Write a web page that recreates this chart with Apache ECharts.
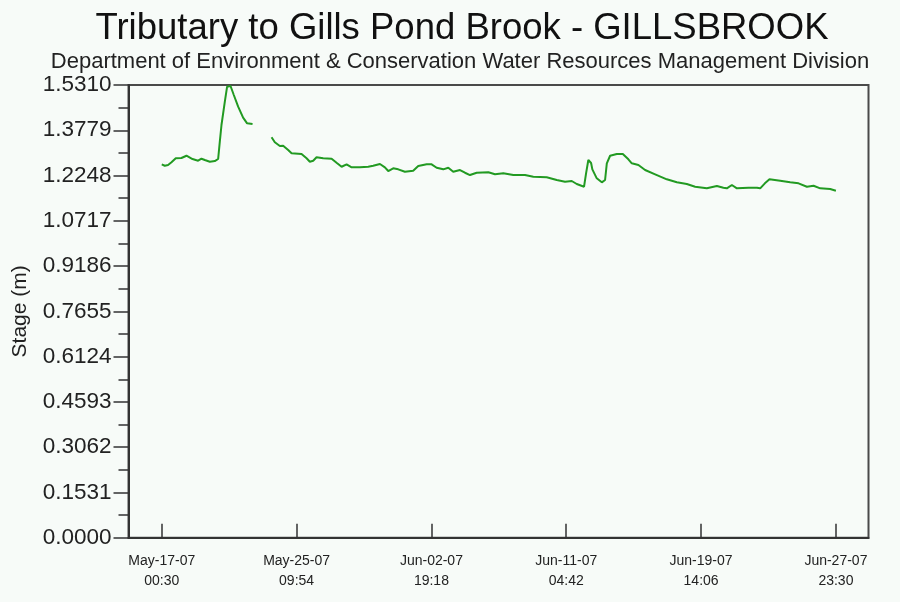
<!DOCTYPE html>
<html>
<head>
<meta charset="utf-8">
<script src="https://cdn.jsdelivr.net/npm/echarts@6/dist/echarts.min.js"></script>
<style>
  html, body { margin: 0; padding: 0; background: #f7fbf8; }
  #chart { width: 900px; height: 602px; }
</style>
</head>
<body>
<div id="chart"></div>
<script>
// ---- Data ----
const startTime = Date.UTC(2007, 4, 17, 0, 30); // May-17-07 00:30
// elapsed hours since the first reading
const hoursSinceStart = [
  0, 4.5, 9.4, 14.5, 20.9, 29.4, 36.9, 45.9, 54.3, 59.3, 64.3, 71.8, 79.2, 84.2,
  86.7, 89.2, 94.2, 97.6, 102.7, 107.6, 114.1, 121.5, 127.5, 135.6,
  150,
  164.0, 168.9, 176.4, 181.3, 188.8, 193.9, 208.8, 216.3, 221.2, 226.2, 231.2,
  241.1, 253.7, 261.1, 268.6, 276.1, 283.6, 296.0, 308.4, 315.8, 325.9, 333.3,
  338.3, 345.7, 353.2, 363.2, 375.6, 383.1, 395.7, 403.1, 410.6, 420.5, 428.0,
  435.4, 445.5, 452.9, 460.4, 470.4, 487.8, 497.8, 510.2, 525.1, 542.6, 555.0,
  575.0, 590.0, 602.4, 612.4, 619.9, 630.8, 633.8, 637.2, 639.0, 641.3, 643.2,
  649.8, 657.3, 662.2, 664.8, 669.7, 679.7, 688.7, 697.0, 702.1, 712.0, 722.0,
  737.0, 754.4, 769.4, 784.3, 796.7, 814.2, 829.2, 839.0, 844.1, 851.6, 859.1,
  876.4, 889.0, 893.9, 900.9, 907.8, 923.8, 938.7, 951.2, 963.7, 973.6, 983.6,
  998.5, 1007
];
// stage in metres (null = missing record)
const stageM = [
  1.2628, 1.2580, 1.2604, 1.2695, 1.2831, 1.2841, 1.2918, 1.2807, 1.2749, 1.2817, 1.2773, 1.2716, 1.2739, 1.2807,
  1.3392, 1.3957, 1.4745, 1.5254, 1.5276, 1.4971, 1.4576, 1.4204, 1.4014, 1.3990,
  null,
  1.3541, 1.3372, 1.3247, 1.3257, 1.3111, 1.3000, 1.2976, 1.2831, 1.2716, 1.2749, 1.2864,
  1.2831, 1.2817, 1.2682, 1.2546, 1.2628, 1.2526, 1.2526, 1.2546, 1.2580, 1.2638, 1.2526,
  1.2401, 1.2492, 1.2458, 1.2377, 1.2411, 1.2570, 1.2628, 1.2628, 1.2512, 1.2458, 1.2512,
  1.2377, 1.2435, 1.2343, 1.2265, 1.2343, 1.2357, 1.2289, 1.2323, 1.2265, 1.2265, 1.2208,
  1.2188, 1.2097, 1.2039, 1.2063, 1.1962, 1.1870, 1.2323, 1.2773, 1.2807, 1.2671, 1.2458,
  1.2154, 1.2019, 1.2097, 1.2661, 1.2918, 1.2976, 1.2976, 1.2797, 1.2661, 1.2604, 1.2435,
  1.2289, 1.2120, 1.2019, 1.1962, 1.1870, 1.1816, 1.1894, 1.1836, 1.1816, 1.1928, 1.1816,
  1.1836, 1.1836, 1.1816, 1.1985, 1.2120, 1.2073, 1.2019, 1.1985, 1.1870, 1.1904, 1.1816,
  1.1793, 1.1735
];
// x tick positions (hours since start) and their labels
const xTickHours = [0, 201.4, 402.8, 604.2, 805.6, 1007];
const xTickLabels = [
  'May-17-07\n00:30', 'May-25-07\n09:54', 'Jun-02-07\n19:18',
  'Jun-11-07\n04:42', 'Jun-19-07\n14:06', 'Jun-27-07\n23:30'
];
// y axis
const yMin = 0, yMax = 1.531, yStep = 0.1531;

const titleText = 'Tributary to Gills Pond Brook - GILLSBROOK';
const subtitleText = 'Department of Environment & Conservation Water Resources Management Division';
const yAxisName = 'Stage (m)';

// ---- Build ----
const HOUR = 3600 * 1000;
const seriesData = hoursSinceStart.map((h, i) => [startTime + h * HOUR, stageM[i] === null ? '-' : stageM[i]]);
const xTickValues = xTickHours.map(h => startTime + h * HOUR);
const xMin = startTime - 49.7 * HOUR;
const xMax = startTime + (1007 + 48.7) * HOUR;

const chart = echarts.init(document.getElementById('chart'), null, { renderer: 'canvas' });
const FONT = '"Liberation Sans", Arial, Helvetica, sans-serif';
chart.setOption({
  animation: false,
  backgroundColor: '#f7fbf8',
  title: [
    { text: titleText, left: 462, top: 10, padding: 0, textAlign: 'center',
      textStyle: { fontFamily: FONT, fontSize: 36.5, fontWeight: 'normal', color: '#111' } },
    { text: subtitleText, left: 460, top: 51, padding: 0, textAlign: 'center',
      textStyle: { fontFamily: FONT, fontSize: 22, fontWeight: 'normal', color: '#222' } }
  ],
  grid: {
    left: 128.5, top: 85, width: 740, height: 452.7,
    show: true, backgroundColor: 'transparent', borderColor: '#4a4a4a', borderWidth: 2,
    outerBoundsMode: 'none', containLabel: false
  },
  xAxis: {
    type: 'value', min: xMin, max: xMax,
    splitLine: { show: false },
    axisLine: { show: true, lineStyle: { color: '#333', width: 2 } },
    axisTick: { show: true, inside: true, length: 14, customValues: xTickValues, lineStyle: { color: '#333', width: 1.5 } },
    axisLabel: {
      customValues: xTickValues, margin: 13,
      fontFamily: FONT, fontSize: 14, lineHeight: 20, color: '#222',
      formatter: function (v) {
        let best = 0, bd = Infinity;
        xTickValues.forEach((t, i) => { const d = Math.abs(t - v); if (d < bd) { bd = d; best = i; } });
        return xTickLabels[best];
      }
    }
  },
  yAxis: {
    type: 'value', min: yMin, max: yMax, interval: yStep,
    name: yAxisName, nameLocation: 'middle', nameRotate: 90, nameGap: 98,
    nameTextStyle: { fontFamily: FONT, fontSize: 21, color: '#222' },
    splitLine: { show: false },
    axisLine: { show: true, lineStyle: { color: '#333', width: 2 } },
    axisTick: { show: true, length: 15, lineStyle: { color: '#333', width: 1.5 } },
    minorTick: { show: true, splitNumber: 2, length: 10, lineStyle: { color: '#333', width: 1.5 } },
    axisLabel: {
      margin: 17, fontFamily: FONT, fontSize: 22.5, color: '#222',
      formatter: v => v.toFixed(4)
    }
  },
  series: [{
    type: 'line', data: seriesData, showSymbol: false, connectNulls: false,
    lineStyle: { color: '#229a22', width: 2 }, itemStyle: { color: '#229a22' }
  }]
});
</script>
</body>
</html>
